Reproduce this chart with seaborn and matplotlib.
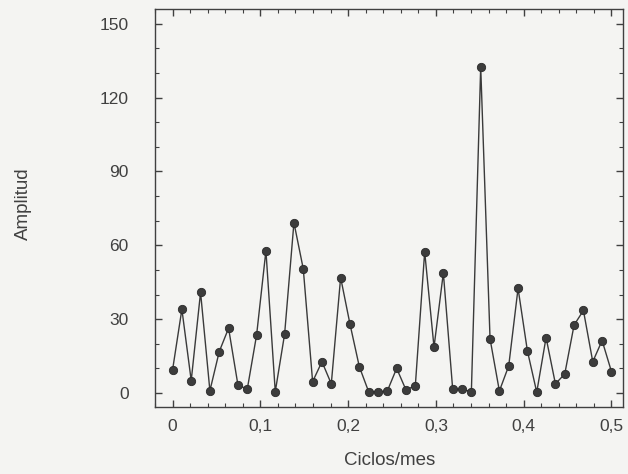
import numpy as np
import pandas as pd
import matplotlib
matplotlib.use("Agg")
import matplotlib.pyplot as plt
import seaborn as sns
from matplotlib.ticker import MultipleLocator

# Data: 48 frequencies k/94 (cycles/month), amplitudes
freq_index = list(range(48))
n_months = 94
amplitud = [9.3, 34.0, 5.0, 40.9, 0.9, 16.8, 26.3, 3.3, 1.5, 23.5,
            57.8, 0.5, 23.9, 69.2, 50.4, 4.6, 12.7, 3.7, 46.9, 28.0,
            10.7, 0.5, 0.3, 0.8, 10.0, 1.2, 3.0, 57.4, 18.6, 48.8,
            1.5, 1.5, 0.5, 132.5, 22.0, 0.8, 11.0, 42.5, 17.1, 0.3,
            22.5, 3.7, 7.7, 27.6, 33.5, 12.7, 21.3, 8.7]
ciclos = [k / n_months for k in freq_index]

x_ticks = [0, 0.1, 0.2, 0.3, 0.4, 0.5]
x_ticklabels = ["0", "0,1", "0,2", "0,3", "0,4", "0,5"]
y_ticks = [0, 30, 60, 90, 120, 150]

df = pd.DataFrame({"Ciclos/mes": ciclos, "Amplitud": amplitud})

sns.set_theme(style="ticks")
plt.rcParams["font.family"] = ["Liberation Sans", "DejaVu Sans"]
bg = "#f4f4f2"
ink = "#404040"

fig = plt.figure(figsize=(6.28, 4.74), dpi=100, facecolor=bg)
ax = fig.add_axes([0.2468, 0.1414, 0.745, 0.8396])
ax.set_facecolor(bg)

sns.lineplot(data=df, x="Ciclos/mes", y="Amplitud", ax=ax, color="#3a3a3a",
             linewidth=1.0, marker="o", markersize=6, markerfacecolor="#3c3c3c",
             markeredgecolor="#2a2a2a", markeredgewidth=0.6)

ax.set_xlim(-0.02, 0.513)
ax.set_ylim(-5.7, 156)
ax.set_xticks(x_ticks)
ax.set_xticklabels(x_ticklabels)
ax.set_yticks(y_ticks)
ax.xaxis.set_minor_locator(MultipleLocator(0.02))
ax.yaxis.set_minor_locator(MultipleLocator(10))

for s in ax.spines.values():
    s.set_visible(True)
    s.set_color(ink)
    s.set_linewidth(1.0)

ax.tick_params(axis="both", which="both", direction="in", top=True, right=True,
               colors=ink, labelcolor=ink)
ax.tick_params(axis="both", which="major", length=5, width=1.0, labelsize=12.5)
ax.tick_params(axis="both", which="minor", length=3, width=0.8)
ax.tick_params(axis="y", which="major", pad=19)
ax.tick_params(axis="x", which="major", pad=9)

ax.set_xlabel("Ciclos/mes", fontsize=13.5, color=ink)
ax.set_ylabel("Amplitud", fontsize=13.5, color=ink)
ax.xaxis.set_label_coords(0.502, -0.112)
ax.yaxis.set_label_coords(-0.262, 0.51)

fig.savefig("out.png", dpi=100, facecolor=bg)
